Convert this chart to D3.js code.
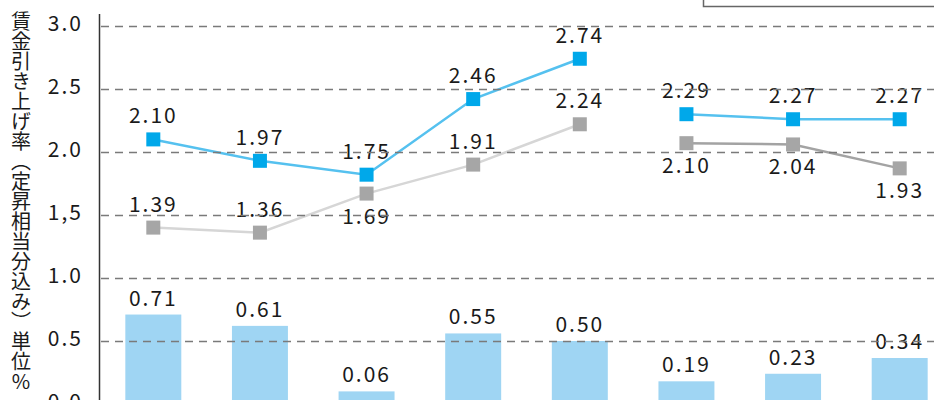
<!DOCTYPE html>
<html>
<head>
<meta charset="utf-8">
<script src="https://cdn.jsdelivr.net/npm/d3@7"></script>
<style>
body { margin: 0; background: #fff; }
svg text { font-family: "Noto Sans CJK JP", "Noto Sans", sans-serif; fill: #1a1a1a; }
</style>
</head>
<body>
<script>
// categories (x labels are cut off in the picture)
var cats = ['c1', 'c2', 'c3', 'c4', 'c5', 'c6', 'c7', 'c8'];
var yTicks = [0, 0.5, 1, 1.5, 2, 2.5, 3];
var yTickLabels = ['0.0', '0.5', '1.0', '1,5', '2.0', '2.5', '3.0'];
var yTitle = '賃金引き上げ率（定昇相当分込み）単位';

// bars
var bars = [0.71, 0.62, 0.10, 0.56, 0.50, 0.18, 0.24, 0.365];
var barLabels = ['0.71', '0.61', '0.06', '0.55', '0.50', '0.19', '0.23', '0.34'];

// lines (two pieces each, gap between 5th and 6th category)
var blueA = [2.10, 1.93, 1.82, 2.42, 2.74, null, null, null];
var blueB = [null, null, null, null, null, 2.30, 2.26, 2.26];
var grayA = [1.40, 1.36, 1.67, 1.90, 2.22, null, null, null];
var grayB = [null, null, null, null, null, 2.07, 2.06, 1.87];
var blueLabels = ['2.10', '1.97', '1.75', '2.46', '2.74', '2.29', '2.27', '2.27'];
var grayLabels = ['1.39', '1.36', '1.69', '1.91', '2.24', '2.10', '2.04', '1.93'];

var W = 934, H = 400;

var svg = d3.select('body').append('svg')
    .attr('width', W)
    .attr('height', H);

var x = d3.scaleBand()
    .domain(cats)
    .range([100, 953])
    .paddingInner(0.475)
    .paddingOuter(0.2375);

var y = d3.scaleLinear()
    .domain([0, 3])
    .range([404, 26]);

function cx(i) { return x(cats[i]) + x.bandwidth() / 2; }

// legend box, mostly off the top of the picture
svg.append('rect')
    .attr('x', 703.5).attr('y', -20)
    .attr('width', 260).attr('height', 26.5)
    .attr('fill', 'none')
    .attr('stroke', '#666')
    .attr('stroke-width', 1.5);

// bars
svg.selectAll('rect.bar')
    .data(bars)
  .enter().append('rect')
    .attr('class', 'bar')
    .attr('x', function(d, i) { return x(cats[i]); })
    .attr('y', function(d) { return y(d); })
    .attr('width', x.bandwidth())
    .attr('height', function(d) { return y(0) - y(d); })
    .attr('fill', '#9fd5f3');

svg.selectAll('text.barlab')
    .data(bars)
  .enter().append('text')
    .attr('class', 'barlab')
    .attr('x', function(d, i) { return cx(i); })
    .attr('y', function(d) { return y(d) - 9; })
    .attr('text-anchor', 'middle')
    .attr('font-size', 21)
    .attr('letter-spacing', 2)
    .text(function(d, i) { return barLabels[i]; });

// lines
function drawLine(vals, color) {
    var line = d3.line()
        .defined(function(d) { return d != null; })
        .x(function(d, i) { return cx(i); })
        .y(function(d) { return y(d); });
    svg.append('path')
        .datum(vals)
        .attr('d', line)
        .attr('fill', 'none')
        .attr('stroke', color)
        .attr('stroke-width', 2.5);
}
drawLine(grayA, '#d6d6d6');
drawLine(grayB, '#a3a3a3');
drawLine(blueA, '#55c1ef');
drawLine(blueB, '#55c1ef');

function drawMarks(vals, color) {
    var pts = vals.map(function(d, i) { return {v: d, i: i}; })
        .filter(function(p) { return p.v != null; });
    svg.append('g').selectAll('rect')
        .data(pts)
      .enter().append('rect')
        .attr('x', function(p) { return cx(p.i) - 7; })
        .attr('y', function(p) { return y(p.v) - 7; })
        .attr('width', 14)
        .attr('height', 14)
        .attr('fill', color);
}
drawMarks(grayA, '#a6a6a6');
drawMarks(grayB, '#a6a6a6');
drawMarks(blueA, '#00a8ea');
drawMarks(blueB, '#00a8ea');

var blue = blueA.map(function(d, i) { return d != null ? d : blueB[i]; });
var gray = grayA.map(function(d, i) { return d != null ? d : grayB[i]; });

// labels: blue always above; gray below when it sits close under blue or is in the 2nd piece
svg.selectAll('text.bluelab')
    .data(blue)
  .enter().append('text')
    .attr('class', 'bluelab')
    .attr('x', function(d, i) { return cx(i); })
    .attr('y', function(d) { return y(d) - 16; })
    .attr('text-anchor', 'middle')
    .attr('font-size', 21)
    .attr('letter-spacing', 2)
    .text(function(d, i) { return blueLabels[i]; });

svg.selectAll('text.graylab')
    .data(gray)
  .enter().append('text')
    .attr('class', 'graylab')
    .attr('x', function(d, i) { return cx(i); })
    .attr('y', function(d, i) {
        var below = grayB[i] != null || blue[i] - d < 0.3;
        return below ? y(d) + 30 : y(d) - 16;
    })
    .attr('text-anchor', 'middle')
    .attr('font-size', 21)
    .attr('letter-spacing', 2)
    .text(function(d, i) { return grayLabels[i]; });

// gridlines sit on top of everything
svg.append('g').selectAll('line')
    .data(yTicks)
  .enter().append('line')
    .attr('x1', 101).attr('x2', W)
    .attr('y1', function(d) { return Math.round(y(d)) + 0.5; })
    .attr('y2', function(d) { return Math.round(y(d)) + 0.5; })
    .attr('stroke', '#7a7a7a')
    .attr('stroke-width', 1.3)
    .attr('stroke-dasharray', '8,6');

// y axis
svg.append('line')
    .attr('x1', 99.5).attr('x2', 99.5)
    .attr('y1', 14).attr('y2', H)
    .attr('stroke', '#333')
    .attr('stroke-width', 1.5);

svg.selectAll('text.ytick')
    .data(yTicks)
  .enter().append('text')
    .attr('class', 'ytick')
    .attr('x', 83)
    .attr('y', function(d) { return y(d) + 5; })
    .attr('text-anchor', 'end')
    .attr('font-size', 21)
    .attr('letter-spacing', 2)
    .text(function(d, i) { return yTickLabels[i]; });

var t = svg.append('text')
    .attr('x', 21)
    .attr('y', 11)
    .attr('font-size', 20)
    .style('writing-mode', 'vertical-rl')
    .text(yTitle);
t.append('tspan')
    .style('text-orientation', 'upright')
    .text('%');
</script>
</body>
</html>
